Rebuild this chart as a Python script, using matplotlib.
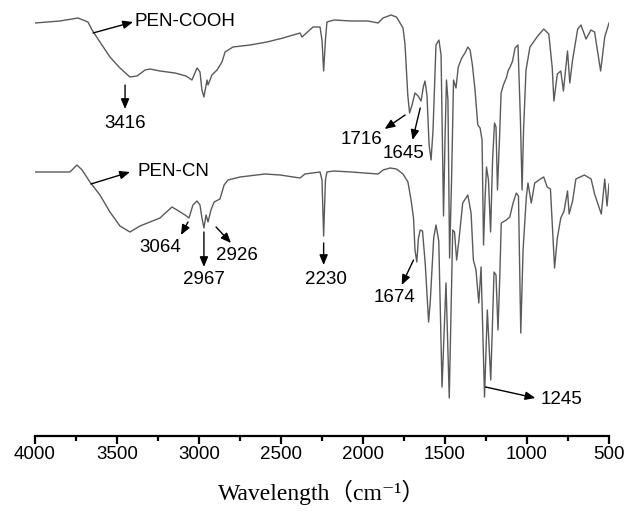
import matplotlib
matplotlib.use("Agg")
import matplotlib.pyplot as plt
from matplotlib.ticker import MultipleLocator

# ---------------- data (wavenumber cm^-1, transmittance a.u.) ----------------
cooh_wn = [4000, 3848, 3738, 3677, 3652, 3604, 3543, 3482, 3421, 3378,
           3329, 3299, 3238, 3146, 3079, 3043, 3012, 2994, 2982, 2970,
           2951, 2945, 2921, 2890, 2860, 2841, 2793, 2689, 2585, 2488,
           2384, 2372, 2305, 2262, 2250, 2240, 2229, 2220, 2177, 2073,
           1969, 1908, 1878, 1829, 1796, 1774, 1756, 1744, 1727, 1716,
           1701, 1683, 1664, 1646, 1631, 1622, 1610, 1597, 1585, 1573,
           1555, 1537, 1524, 1515, 1509, 1500, 1491, 1482, 1472, 1460,
           1448, 1433, 1419, 1398, 1378, 1361, 1347, 1333, 1317, 1300,
           1286, 1274, 1265, 1256, 1247, 1235, 1222, 1210, 1198, 1189,
           1180, 1168, 1158, 1144, 1124, 1116, 1103, 1088, 1073, 1055,
           1040, 1030, 1021, 1006, 982, 939, 898, 867, 846, 836,
           815, 794, 778, 753, 739, 723, 691, 671, 640, 610,
           588, 551, 526, 500]
cooh_t = [408, 410, 413, 409, 401, 389, 374, 363, 354, 355,
          361, 362, 360, 358, 355, 351, 363, 359, 341, 334,
          351, 346, 356, 361, 369, 379, 384, 386, 389, 393,
          398, 394, 404, 404, 391, 360, 391, 409, 411, 410,
          410, 408, 413, 416, 414, 408, 403, 387, 336, 318,
          326, 338, 335, 330, 345, 350, 336, 286, 271, 301,
          386, 391, 376, 281, 215, 291, 351, 331, 173, 251,
          351, 343, 364, 373, 378, 384, 381, 366, 341, 306,
          303, 291, 186, 231, 264, 251, 199, 271, 308, 304,
          241, 291, 338, 346, 354, 360, 364, 370, 383, 386,
          311, 241, 301, 361, 384, 394, 402, 397, 363, 330,
          357, 360, 340, 380, 348, 370, 402, 406, 392, 401,
          399, 360, 394, 408]

cn_wn = [4000, 3787, 3744, 3713, 3665, 3604, 3543, 3482, 3421, 3360,
         3238, 3165, 3134, 3085, 3061, 3037, 3012, 2994, 2982, 2970,
         2957, 2945, 2927, 2908, 2872, 2847, 2823, 2750, 2598, 2506,
         2384, 2354, 2262, 2250, 2240, 2229, 2220, 2177, 2073, 1908,
         1878, 1835, 1796, 1756, 1726, 1707, 1692, 1683, 1672, 1662,
         1651, 1637, 1620, 1600, 1590, 1569, 1555, 1538, 1518, 1494,
         1474, 1453, 1442, 1429, 1415, 1392, 1361, 1341, 1327, 1311,
         1294, 1280, 1259, 1242, 1221, 1201, 1189, 1177, 1166, 1157,
         1126, 1105, 1085, 1065, 1052, 1038, 1024, 1004, 994, 974,
         953, 918, 898, 877, 857, 832, 815, 794, 774, 753,
         743, 722, 702, 650, 609, 588, 547, 526, 512, 500]
cn_t = [259, 259, 266, 261, 249, 236, 219, 205, 199, 205,
        213, 224, 221, 216, 213, 226, 230, 226, 213, 203,
        216, 209, 221, 229, 232, 246, 251, 254, 257, 256,
        253, 257, 259, 251, 195, 251, 259, 260, 259, 257,
        261, 263, 262, 257, 249, 231, 213, 181, 169, 193,
        201, 200, 166, 109, 129, 193, 206, 190, 44, 148,
        33, 201, 199, 171, 191, 228, 236, 218, 171, 161,
        128, 164, 34, 121, 51, 159, 156, 101, 154, 208,
        211, 214, 228, 238, 235, 98, 181, 234, 248, 228,
        248, 252, 254, 244, 242, 163, 193, 213, 220, 240,
        217, 230, 252, 256, 252, 237, 217, 252, 225, 247]

x_ticks = [4000, 3500, 3000, 2500, 2000, 1500, 1000, 500]

# annotations: (text, arrow tail (wn, T), arrow head (wn, T), text pos, ha)
series_labels = [
    ("PEN-COOH", (3646, 398), (3402, 409), (3392, 409), "left"),
    ("PEN-CN", (3659, 247), (3421, 259), (3372, 259), "left"),
]
peak_labels = [
    ("3416", (3451, 346), (3451, 322), (3451, 308), "center"),
    ("3064", (3067, 209), (3110, 196), (3238, 184), "center"),
    ("2967", (2970, 199), (2970, 164), (2970, 151), "center"),
    ("2926", (2896, 204), (2805, 188), (2768, 175), "center"),
    ("2230", (2240, 188), (2240, 166), (2229, 152), "center"),
    ("1716", (1743, 316), (1868, 302), (2012, 292), "center"),
    ("1645", (1651, 323), (1698, 291), (1755, 277), "center"),
    ("1674", (1692, 171), (1764, 146), (1805, 134), "center"),
    ("1245", (1253, 44), (949, 33), (918, 31), "left"),
]

# ---------------- figure ----------------
W, H = 625, 513
fig = plt.figure(figsize=(W / 100, H / 100), dpi=100)
ax = fig.add_axes([35 / W, 77 / H, 574 / W, 436 / H])
ax.set_xlim(4000, 500)
ax.set_ylim(-5, 431)

line_color = "#5a5a5a"
ax.plot(cooh_wn, cooh_t, color=line_color, lw=1.0)
ax.plot(cn_wn, cn_t, color=line_color, lw=1.0)

arrow_kw = dict(arrowstyle="-|>,head_length=0.6,head_width=0.25", color="black",
                lw=1.0, shrinkA=0, shrinkB=0)
lab_font = dict(family=["Liberation Sans", "DejaVu Sans"], fontsize=13.5, color="black")
for txt, tail, head, tpos, ha in series_labels + peak_labels:
    ax.annotate("", xy=head, xytext=tail, arrowprops=arrow_kw)
    ax.text(tpos[0], tpos[1], txt, ha=ha, va="center", **lab_font)

for s in ["left", "right", "top"]:
    ax.spines[s].set_visible(False)
ax.spines["bottom"].set_linewidth(1.6)
ax.set_yticks([])
ax.set_xticks(x_ticks)
ax.set_xticklabels([str(t) for t in x_ticks])
ax.xaxis.set_minor_locator(MultipleLocator(250))
ax.tick_params(axis="x", which="major", direction="out", length=6, width=1.6, pad=1.5,
               labelsize=13.5)
ax.tick_params(axis="x", which="minor", direction="out", length=3.5, width=1.6)
for lbl in ax.get_xticklabels():
    lbl.set_family(["Liberation Sans", "DejaVu Sans"])

ax.set_xlabel("Wavelength\uff08cm\u207b\u00b9\uff09",
              family=["Liberation Serif", "DejaVu Serif", "Noto Sans CJK SC"],
              fontsize=17, labelpad=12)

fig.savefig("out.png", dpi=100)
